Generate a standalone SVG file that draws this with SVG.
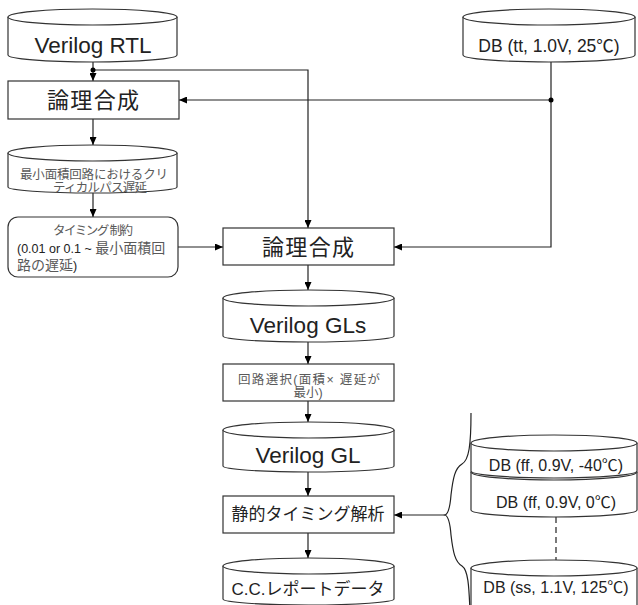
<svg xmlns="http://www.w3.org/2000/svg" width="638" height="605" viewBox="0 0 638 605">
<defs>
<marker id="ah" viewBox="0 0 8 7" refX="8" refY="3.5" markerWidth="8" markerHeight="7" markerUnits="userSpaceOnUse" orient="auto">
<path d="M0,0 L8,3.5 L0,7 Z" fill="#000"/>
</marker>
<style>
.shape{fill:#fff;stroke:#333;stroke-width:1.2}
.ln{fill:none;stroke:#222;stroke-width:1.2}
.arr{fill:none;stroke:#222;stroke-width:1.2;marker-end:url(#ah)}
.t{font-family:"Liberation Sans","Noto Sans CJK JP",sans-serif;fill:#222;text-anchor:middle}
.big{font-size:22.5px}
.jp{font-family:"Noto Sans CJK JP","Liberation Sans",sans-serif;font-size:22px;fill:#222;text-anchor:middle}
.sm{font-family:"Liberation Sans","Noto Sans CJK JP",sans-serif;font-size:12.5px;fill:#595959;text-anchor:middle}
.db{font-size:17.5px}
.mid{font-family:"Liberation Sans","Noto Sans CJK JP",sans-serif;font-size:17px;fill:#222;text-anchor:middle}
</style>
</defs>
<rect width="638" height="605" fill="#fff"/>

<g id="connectors">
<path class="arr" d="M93,62 V81"/>
<path class="arr" d="M93,70 H308 V228"/>
<path class="arr" d="M551,62 V247 H394"/>
<path class="arr" d="M551,100 H179"/>
<path class="arr" d="M93,119 V145"/>
<path class="arr" d="M93,193 V217"/>
<path class="arr" d="M178,247 H223"/>
<path class="arr" d="M308,265 V290"/>
<path class="arr" d="M308,342 V364"/>
<path class="arr" d="M308,401 V422"/>
<path class="arr" d="M308,472 V496"/>
<path class="arr" d="M308,533 V558"/>
<path class="arr" d="M445,515 H394"/>
<path class="ln" d="M471,413 C471,445 469,460 462,464 C455,468 453,478 451,495 C450,508 448,514 445,515 C448,516 450,522 451,535 C453,552 455,562 462,566 C468,570 469,585 470,612"/>
<path class="ln" d="M556,517 V560" stroke-dasharray="6,4" stroke-width="2"/>
<circle cx="93" cy="70" r="2.5" fill="#000"/>
<circle cx="551" cy="100" r="2.5" fill="#000"/>
</g>

<g id="verilog-rtl">
<path class="shape" d="M8,17 A84.5,8 0 0 1 177,17 V55 A84.5,7 0 0 1 8,55 Z"/>
<path class="shape" d="M8,17 A84.5,8 0 0 0 177,17" fill="none"/>
<text class="t big" x="93" y="53">Verilog RTL</text>
</g>

<g id="db-tt">
<path class="shape" d="M463,17 A86,8 0 0 1 635,17 V55 A86,7 0 0 1 463,55 Z"/>
<path class="shape" d="M463,17 A86,8 0 0 0 635,17" fill="none"/>
<text class="t db" x="549" y="52">DB (tt, 1.0V, 25℃)</text>
</g>

<g id="synth1">
<rect class="shape" x="8" y="81" width="171" height="38"/>
<text class="jp" x="93" y="108" textLength="92" lengthAdjust="spacing">論理合成</text>
</g>

<g id="critical-path">
<path class="shape" d="M8,153 A84.5,8 0 0 1 177,153 V187 A84.5,6 0 0 1 8,187 Z"/>
<path class="shape" d="M8,153 A84.5,8 0 0 0 177,153" fill="none"/>
<text class="sm" x="94" y="179" textLength="148" lengthAdjust="spacing">最小面積回路におけるクリ</text>
<text class="sm" x="100" y="192" textLength="94" lengthAdjust="spacing">ティカルパス遅延</text>
</g>

<g id="timing-constraint">
<rect class="shape" x="8" y="217" width="170" height="60" rx="10"/>
<text class="sm" x="93" y="235" textLength="80" lengthAdjust="spacing">タイミング 制約</text>
<text x="17" y="253" font-family="'Liberation Sans','Noto Sans CJK JP',sans-serif" font-size="12.5px" fill="#222">(0.01 or 0.1 ~ <tspan fill="#595959" font-size="14px">最小面積回</tspan></text>
<text x="17" y="270" font-family="'Liberation Sans','Noto Sans CJK JP',sans-serif" font-size="14px" fill="#595959">路の遅延<tspan fill="#222" font-size="12.5px">)</tspan></text>
</g>

<g id="synth2">
<rect class="shape" x="223" y="228" width="171" height="37"/>
<text class="jp" x="308" y="255" textLength="92" lengthAdjust="spacing">論理合成</text>
</g>

<g id="verilog-gls">
<path class="shape" d="M223,298 A85.5,8 0 0 1 394,298 V336 A85.5,6 0 0 1 223,336 Z"/>
<path class="shape" d="M223,298 A85.5,8 0 0 0 394,298" fill="none"/>
<text class="t big" x="308" y="333">Verilog GLs</text>
</g>

<g id="circuit-select">
<rect class="shape" x="223" y="364" width="171" height="37"/>
<text class="sm" x="309" y="384" textLength="142" lengthAdjust="spacing">回路選択(面積× 遅延が</text>
<text class="sm" x="308" y="397">最小)</text>
</g>

<g id="verilog-gl">
<path class="shape" d="M223,430 A85.5,8 0 0 1 394,430 V466 A85.5,6 0 0 1 223,466 Z"/>
<path class="shape" d="M223,430 A85.5,8 0 0 0 394,430" fill="none"/>
<text class="t big" x="308" y="463">Verilog GL</text>
</g>

<g id="sta">
<rect class="shape" x="223" y="496" width="171" height="37"/>
<text class="mid" x="308" y="520">静的タイミング解析</text>
</g>

<g id="cc-report">
<path class="shape" d="M223,566 A85.5,8 0 0 1 394,566 V599 A85.5,6 0 0 1 223,599 Z"/>
<path class="shape" d="M223,566 A85.5,8 0 0 0 394,566" fill="none"/>
<text class="mid" x="308" y="595">C.C.レポートデータ</text>
</g>

<g id="db-ff-0">
<path class="shape" d="M471,472 A83,8 0 0 1 637,472 V510 A83,7 0 0 1 471,510 Z"/>
<path class="shape" d="M471,472 A83,8 0 0 0 637,472" fill="none"/>
<text class="t" x="556" y="508" font-size="16px">DB (ff, 0.9V, 0℃)</text>
</g>

<g id="db-ff-m40">
<path class="shape" d="M471,443 A83,8 0 0 1 637,443 V471 A83,7 0 0 1 471,471 Z"/>
<path class="shape" d="M471,443 A83,8 0 0 0 637,443" fill="none"/>
<text class="t" x="556" y="471" font-size="16px">DB (ff, 0.9V, -40℃)</text>
</g>

<g id="db-ss">
<path class="shape" d="M471,568 A83,8 0 0 1 637,568 V612 A83,7 0 0 1 471,612 Z"/>
<path class="shape" d="M471,568 A83,8 0 0 0 637,568" fill="none"/>
<text class="t" x="556" y="593" font-size="16px">DB (ss, 1.1V, 125℃)</text>
</g>
</svg>
